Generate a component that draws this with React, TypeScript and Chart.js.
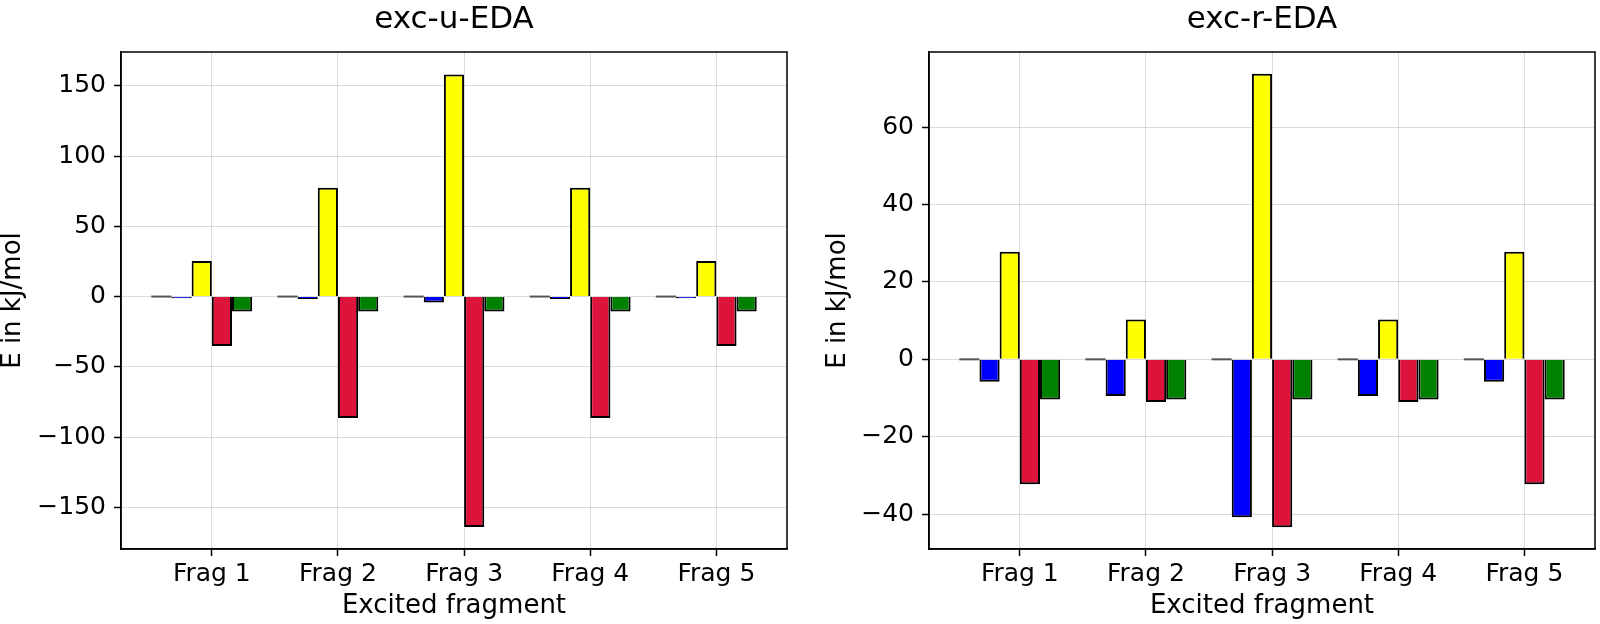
import { Chart, registerables } from "chart.js"
import React, { useEffect, useRef } from "react"

Chart.register(...registerables)

Chart.defaults.font.family = "'DejaVu Sans', sans-serif"
Chart.defaults.color = "#000"

const fragments = ["Frag 1", "Frag 2", "Frag 3", "Frag 4", "Frag 5"]
const fragPos = [1, 2, 3, 4, 5]
const seriesNames = ["Term 1", "Term 2", "Term 3", "Term 4", "Term 5"]
const seriesColors = ["#555555", "#0000ff", "#ffff00", "#dc143c", "#008000"]

// exc-u-EDA
const uTerm1 = [0, 0, 0, 0, 0]
const uTerm2 = [-1.2, -1.8, -4.3, -1.8, -1.2]
const uTerm3 = [25.3, 77.4, 158, 77.4, 25.3]
const uTerm4 = [-35.1, -86.4, -164, -86.4, -35.1]
const uTerm5 = [-10.7, -10.7, -10.7, -10.7, -10.7]
const uTicks = [-150, -100, -50, 0, 50, 100, 150]

// exc-r-EDA
const rTerm1 = [0, 0, 0, 0, 0]
const rTerm2 = [-5.8, -9.5, -40.8, -9.5, -5.8]
const rTerm3 = [27.8, 10.3, 73.8, 10.3, 27.8]
const rTerm4 = [-32.3, -11.0, -43.4, -11.0, -32.3]
const rTerm5 = [-10.4, -10.4, -10.4, -10.4, -10.4]
const rTicks = [-40, -20, 0, 20, 40, 60]

const framePlugin = {
  id: "frame",
  afterDatasetsDraw(chart: any) {
    const { ctx, chartArea: a } = chart
    ctx.save()
    ctx.strokeStyle = "#000"
    ctx.lineWidth = 1.5
    ctx.strokeRect(a.left, a.top, a.right - a.left, a.bottom - a.top)
    ctx.restore()
  },
}

const minus = (v: number) => String(v).replace("-", "\u2212")

type PanelProps = {
  title: string
  series: number[][]
  yMin: number
  yMax: number
  yTicks: number[]
  padLeft: number
  padRight: number
  yAxisWidth: number
}

const Panel: React.FC<PanelProps> = ({ title, series, yMin, yMax, yTicks, padLeft, padRight, yAxisWidth }) => {
  const canvasRef = useRef<HTMLCanvasElement>(null)

  useEffect(() => {
    const ctx = canvasRef.current?.getContext("2d")
    if (!ctx) return

    const chart = new Chart(ctx, {
      type: "bar",
      data: {
        datasets: series.map((vals, i) => ({
          label: seriesNames[i],
          data: vals.map((y, j) => ({ x: fragPos[j], y })),
          xAxisID: "xb",
          backgroundColor: seriesColors[i],
          borderColor: "#000",
          borderWidth: i === 0 ? 0 : 2,
          minBarLength: i === 0 ? 2 : 0,
          barPercentage: 1,
          categoryPercentage: 0.8,
        })),
      },
      options: {
        responsive: false,
        animation: false,
        layout: { padding: { left: padLeft, right: padRight, top: 0, bottom: 0 } },
        plugins: {
          legend: { display: false },
          tooltip: { enabled: false },
          title: {
            display: true,
            fullSize: false,
            text: title,
            font: { size: 31, weight: "normal", lineHeight: 1.0 },
            padding: { top: 4, bottom: 17 },
          },
        },
        scales: {
          xb: {
            type: "linear",
            display: false,
            offset: false,
            min: 0.36,
            max: 5.64,
            afterBuildTicks: (scale: any) => {
              scale.ticks = fragPos.map((v) => ({ value: v }))
            },
          },
          x: {
            type: "linear",
            offset: false,
            min: 0.28,
            max: 5.56,
            afterBuildTicks: (scale: any) => {
              scale.ticks = fragPos.map((v) => ({ value: v }))
            },
            afterFit: (scale: any) => {
              scale.height = 75
            },
            ticks: {
              font: { size: 25 },
              padding: 3,
              maxRotation: 0,
              callback: (v: any) => fragments[Math.round(Number(v)) - 1] ?? "",
            },
            grid: {
              offset: false,
              color: "rgba(0,0,0,0.14)",
              tickColor: "#000",
              tickLength: 7,
              tickWidth: 1.5,
            },
            border: { color: "#000", width: 1.5 },
            title: {
              display: true,
              text: "Excited fragment",
              font: { size: 26, lineHeight: 1.0 },
              padding: { top: 0, bottom: 5 },
            },
          },
          y: {
            type: "linear",
            min: yMin,
            max: yMax,
            afterBuildTicks: (scale: any) => {
              scale.ticks = yTicks.map((v) => ({ value: v }))
            },
            afterFit: (scale: any) => {
              scale.width = yAxisWidth
            },
            ticks: {
              font: { size: 25 },
              padding: 8,
              callback: (v: any) => minus(Number(v)),
            },
            grid: {
              color: "rgba(0,0,0,0.14)",
              tickColor: "#000",
              tickLength: 7,
              tickWidth: 1.5,
            },
            border: { color: "#000", width: 1.5 },
            title: {
              display: true,
              text: "E in kJ/mol",
              font: { size: 26, lineHeight: 1.0 },
              padding: { top: 0, bottom: 0 },
            },
          },
        },
      },
      plugins: [framePlugin],
    })

    return () => {
      chart.destroy()
    }
  }, [])

  return <canvas ref={canvasRef} width={800} height={624} style={{ width: 800, height: 624, display: "block" }} />
}

const App: React.FC = () => {
  return (
    <div
      style={{
        position: "fixed",
        top: 0,
        left: 0,
        width: 1600,
        height: 624,
        display: "flex",
        background: "#fff",
      }}
    >
      <Panel
        title="exc-u-EDA"
        series={[uTerm1, uTerm2, uTerm3, uTerm4, uTerm5]}
        yMin={-179.6}
        yMax={174}
        yTicks={uTicks}
        padLeft={0}
        padRight={13}
        yAxisWidth={121}
      />
      <Panel
        title="exc-r-EDA"
        series={[rTerm1, rTerm2, rTerm3, rTerm4, rTerm5]}
        yMin={-49}
        yMax={79.4}
        yTicks={rTicks}
        padLeft={25}
        padRight={5}
        yAxisWidth={104}
      />
    </div>
  )
}

export default App
